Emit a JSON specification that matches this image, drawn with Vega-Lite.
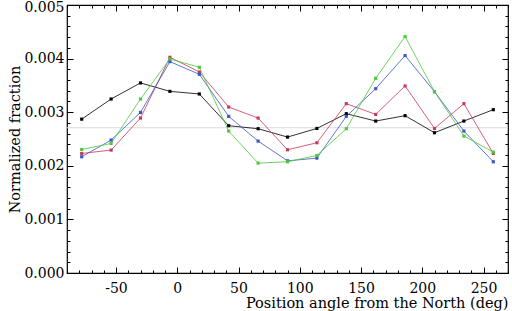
{
  "$schema": "https://vega.github.io/schema/vega-lite/v6.json",
  "width": 441,
  "height": 268,
  "autosize": {"type": "none"},
  "padding": {"left": 67, "top": 5, "right": 4, "bottom": 38},
  "config": {
    "view": {"stroke": "#000000", "strokeWidth": 1.2},
    "font": "DejaVu Serif",
    "axis": {"grid": false, "domain": false, "labelFont": "DejaVu Serif", "titleFont": "DejaVu Serif", "labelColor": "#000", "titleColor": "#000", "tickColor": "#000", "titleFontWeight": "normal", "labelFontSize": 14, "titleFontSize": 14.5}
  },
  "data": {"values": [
    {"angle": -78, "frac": 0.00287, "series": "A"},
    {"angle": -54, "frac": 0.003246, "series": "A"},
    {"angle": -30, "frac": 0.003546, "series": "A"},
    {"angle": -6, "frac": 0.003389, "series": "A"},
    {"angle": 18, "frac": 0.00334, "series": "A"},
    {"angle": 42, "frac": 0.002748, "series": "A"},
    {"angle": 66, "frac": 0.002692, "series": "A"},
    {"angle": 90, "frac": 0.002536, "series": "A"},
    {"angle": 114, "frac": 0.002697, "series": "A"},
    {"angle": 138, "frac": 0.002972, "series": "A"},
    {"angle": 162, "frac": 0.002835, "series": "A"},
    {"angle": 186, "frac": 0.002935, "series": "A"},
    {"angle": 210, "frac": 0.002617, "series": "A"},
    {"angle": 234, "frac": 0.002835, "series": "A"},
    {"angle": 258, "frac": 0.003047, "series": "A"},
    {"angle": -78, "frac": 0.00223, "series": "B"},
    {"angle": -54, "frac": 0.002293, "series": "B"},
    {"angle": -30, "frac": 0.002891, "series": "B"},
    {"angle": -6, "frac": 0.004025, "series": "B"},
    {"angle": 18, "frac": 0.003751, "series": "B"},
    {"angle": 42, "frac": 0.003097, "series": "B"},
    {"angle": 66, "frac": 0.002891, "series": "B"},
    {"angle": 90, "frac": 0.002299, "series": "B"},
    {"angle": 114, "frac": 0.00243, "series": "B"},
    {"angle": 138, "frac": 0.003159, "series": "B"},
    {"angle": 162, "frac": 0.002959, "series": "B"},
    {"angle": 186, "frac": 0.00349, "series": "B"},
    {"angle": 210, "frac": 0.002697, "series": "B"},
    {"angle": 234, "frac": 0.003159, "series": "B"},
    {"angle": 258, "frac": 0.00223, "series": "B"},
    {"angle": -78, "frac": 0.002168, "series": "C"},
    {"angle": -54, "frac": 0.00248, "series": "C"},
    {"angle": -30, "frac": 0.002996, "series": "C"},
    {"angle": -6, "frac": 0.003944, "series": "C"},
    {"angle": 18, "frac": 0.003707, "series": "C"},
    {"angle": 42, "frac": 0.002922, "series": "C"},
    {"angle": 66, "frac": 0.002461, "series": "C"},
    {"angle": 90, "frac": 0.002093, "series": "C"},
    {"angle": 114, "frac": 0.002143, "series": "C"},
    {"angle": 138, "frac": 0.002922, "series": "C"},
    {"angle": 162, "frac": 0.003439, "series": "C"},
    {"angle": 186, "frac": 0.004056, "series": "C"},
    {"angle": 210, "frac": 0.003383, "series": "C"},
    {"angle": 234, "frac": 0.002648, "series": "C"},
    {"angle": 258, "frac": 0.002075, "series": "C"},
    {"angle": -78, "frac": 0.002305, "series": "D"},
    {"angle": -54, "frac": 0.002417, "series": "D"},
    {"angle": -30, "frac": 0.003246, "series": "D"},
    {"angle": -6, "frac": 0.003994, "series": "D"},
    {"angle": 18, "frac": 0.003838, "series": "D"},
    {"angle": 42, "frac": 0.002648, "series": "D"},
    {"angle": 66, "frac": 0.00205, "series": "D"},
    {"angle": 90, "frac": 0.002075, "series": "D"},
    {"angle": 114, "frac": 0.002193, "series": "D"},
    {"angle": 138, "frac": 0.002692, "series": "D"},
    {"angle": 162, "frac": 0.003632, "series": "D"},
    {"angle": 186, "frac": 0.004411, "series": "D"},
    {"angle": 210, "frac": 0.003383, "series": "D"},
    {"angle": 234, "frac": 0.002555, "series": "D"},
    {"angle": 258, "frac": 0.002256, "series": "D"}
  ]},
  "resolve": {"axis": {"x": "independent", "y": "independent"}},
  "layer": [
    {
      "data": {"values": [{"level": 0.00271, "a0": -90, "a1": 270}]},
      "mark": {"type": "rule", "color": "#dcdcdc", "strokeWidth": 1},
      "encoding": {
        "x": {"field": "a0", "type": "quantitative", "scale": {"domain": [-90, 270], "nice": false, "zero": false},
          "axis": {"orient": "top", "values": [-90,-80,-70,-60,-50,-40,-30,-20,-10,0,10,20,30,40,50,60,70,80,90,100,110,120,130,140,150,160,170,180,190,200,210,220,230,240,250,260,270], "labels": false, "title": null,
            "tickSize": {"condition": {"test": "datum.value % 50 === 0", "value": -6}, "value": -3}}},
        "x2": {"field": "a1"},
        "y": {"field": "level", "type": "quantitative", "scale": {"domain": [0, 0.005], "nice": false},
          "axis": {"orient": "right", "values": [0,0.0002,0.0004,0.0006,0.0008,0.001,0.0012,0.0014,0.0016,0.0018,0.002,0.0022,0.0024,0.0026,0.0028,0.003,0.0032,0.0034,0.0036,0.0038,0.004,0.0042,0.0044,0.0046,0.0048,0.005], "labels": false, "title": null,
            "tickSize": {"condition": {"test": "abs(datum.value*1000 - round(datum.value*1000)) < 0.01", "value": -6}, "value": -3}}}
      }
    },
    {
      "mark": {"type": "line", "strokeWidth": 1, "opacity": 0.8},
      "encoding": {
        "x": {"field": "angle", "type": "quantitative", "scale": {"domain": [-90, 270], "nice": false, "zero": false},
          "axis": {"orient": "bottom", "values": [-90,-80,-70,-60,-50,-40,-30,-20,-10,0,10,20,30,40,50,60,70,80,90,100,110,120,130,140,150,160,170,180,190,200,210,220,230,240,250,260,270],
            "labelExpr": "datum.value % 50 === 0 && datum.value > -90 && datum.value < 270 ? toString(datum.value) : ''",
            "tickSize": {"condition": {"test": "datum.value % 50 === 0", "value": -6}, "value": -3},
            "labelPadding": {"condition": {"test": "datum.value % 50 === 0", "value": 14}, "value": 11},
            "title": "Position angle from the North (deg)", "titleAnchor": "end", "titlePadding": 1}},
        "y": {"field": "frac", "type": "quantitative", "scale": {"domain": [0, 0.005], "nice": false},
          "axis": {"orient": "left", "values": [0,0.0002,0.0004,0.0006,0.0008,0.001,0.0012,0.0014,0.0016,0.0018,0.002,0.0022,0.0024,0.0026,0.0028,0.003,0.0032,0.0034,0.0036,0.0038,0.004,0.0042,0.0044,0.0046,0.0048,0.005],
            "labelExpr": "abs(datum.value*1000 - round(datum.value*1000)) < 0.01 ? format(datum.value, '.3f') : ''",
            "tickSize": {"condition": {"test": "abs(datum.value*1000 - round(datum.value*1000)) < 0.01", "value": -6}, "value": -3},
            "labelPadding": {"condition": {"test": "abs(datum.value*1000 - round(datum.value*1000)) < 0.01", "value": 9}, "value": 6},
            "labelOffset": {"condition": {"test": "datum.value > 0.0049", "value": 2}, "value": 0},
            "title": "Normalized fraction", "titlePadding": 1}},
        "color": {"field": "series", "type": "nominal", "scale": {"domain": ["A", "B", "C", "D"], "range": ["#000000", "#c8385a", "#3a56c8", "#4cc83a"]}, "legend": null}
      }
    },
    {
      "mark": {"type": "square", "filled": true, "size": 10, "opacity": 1},
      "encoding": {
        "x": {"field": "angle", "type": "quantitative", "axis": null},
        "y": {"field": "frac", "type": "quantitative", "axis": null},
        "color": {"field": "series", "type": "nominal", "legend": null}
      }
    }
  ]
}
